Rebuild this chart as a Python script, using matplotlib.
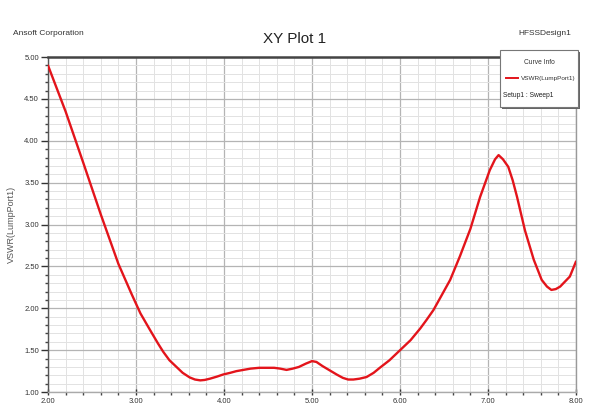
import matplotlib
matplotlib.use("Agg")
import matplotlib.pyplot as plt
from matplotlib.ticker import MultipleLocator, FormatStrFormatter
from matplotlib.patches import Rectangle

plt.rcParams['font.family'] = ['Liberation Sans Narrow', 'Liberation Sans', 'DejaVu Sans']

freq = [2.00, 2.20, 2.40, 2.60, 2.80, 2.95, 3.05, 3.16, 3.25, 3.31, 3.38,
        3.46, 3.53, 3.61, 3.67, 3.73, 3.78, 3.84, 3.92, 3.99, 4.07, 4.14,
        4.22, 4.30, 4.40, 4.49, 4.57, 4.64, 4.71, 4.78, 4.85, 4.93, 5.00,
        5.05, 5.12, 5.20, 5.28, 5.35, 5.41, 5.47, 5.54, 5.62, 5.70, 5.77,
        5.88, 6.00, 6.12, 6.23, 6.30, 6.38, 6.47, 6.57, 6.68, 6.80, 6.91,
        7.02, 7.08, 7.12, 7.17, 7.23, 7.28, 7.33, 7.42, 7.52, 7.61, 7.67,
        7.72, 7.77, 7.82, 7.93, 8.00]
vswr = [4.90, 4.35, 3.74, 3.12, 2.53, 2.17, 1.94, 1.74, 1.58, 1.48, 1.38,
        1.30, 1.23, 1.175, 1.15, 1.14, 1.145, 1.16, 1.185, 1.21, 1.23, 1.25,
        1.265, 1.28, 1.29, 1.29, 1.29, 1.28, 1.265, 1.28, 1.30, 1.34, 1.37,
        1.36, 1.31, 1.26, 1.21, 1.17, 1.15, 1.15, 1.16, 1.18, 1.23, 1.29,
        1.38, 1.50, 1.62, 1.76, 1.86, 1.98, 2.15, 2.34, 2.62, 2.95, 3.33,
        3.65, 3.78, 3.83, 3.78, 3.69, 3.53, 3.33, 2.93, 2.58, 2.34, 2.26,
        2.22, 2.23, 2.26, 2.38, 2.56]

title = "XY Plot 1"
left_note = "Ansoft Corporation"
right_note = "HFSSDesign1"
ylabel = "VSWR(LumpPort1)"
legend_title = "Curve Info"
legend_entry = "VSWR(LumpPort1)"
legend_sub = "Setup1 : Sweep1"

line_color = '#e3141b'

fig = plt.figure(figsize=(5.9, 4.08), dpi=100)
ax = fig.add_axes([0.0814, 0.039, 0.8949, 0.821])

ax.plot(freq, vswr, color=line_color, lw=1.7, zorder=3,
        solid_joinstyle='round', solid_capstyle='round')
ax.set_xlim(2.0, 8.0)
ax.set_ylim(1.0, 5.0)

ax.xaxis.set_major_locator(MultipleLocator(1.0))
ax.xaxis.set_minor_locator(MultipleLocator(0.2))
ax.yaxis.set_major_locator(MultipleLocator(0.5))
ax.yaxis.set_minor_locator(MultipleLocator(0.1))
ax.xaxis.set_major_formatter(FormatStrFormatter('%.2f'))
ax.yaxis.set_major_formatter(FormatStrFormatter('%.2f'))

ax.grid(which='major', color='#b4b4b4', lw=0.9, zorder=1)
ax.grid(which='minor', color='#e2e2e2', lw=0.7, zorder=0)

ax.tick_params(which='major', axis='both', labelsize=5.5, colors='#333333',
               length=5, width=1.0, pad=1.5)
ax.tick_params(which='minor', axis='both', length=2.5, width=1.0, colors='#444444')
ax.tick_params(axis='x', direction='inout')

ax.spines['top'].set_color('#444444')
ax.spines['top'].set_linewidth(1.8)
ax.spines['left'].set_color('#555555')
ax.spines['left'].set_linewidth(1.0)
ax.spines['bottom'].set_color('#aaaaaa')
ax.spines['bottom'].set_linewidth(1.0)
ax.spines['right'].set_color('#999999')
ax.spines['right'].set_linewidth(1.0)

ax.set_ylabel(ylabel, fontsize=6.5, color='#555555', labelpad=6)

fig.text(0.5, 0.905, title, ha='center', va='center', fontsize=11, color='#222222')
fig.text(0.022, 0.918, left_note, ha='left', va='center', fontsize=6, color='#333333')
fig.text(0.968, 0.918, right_note, ha='right', va='center', fontsize=6, color='#333333')

# legend box ("Curve Info")
tr = ax.transAxes
bx0, by0, bw, bh = 0.856, 0.851, 0.148, 0.170
shadow = Rectangle((bx0 + 0.003, by0 - 0.005), bw, bh, transform=tr,
                   facecolor='#666666', edgecolor='none', zorder=6, clip_on=False)
box = Rectangle((bx0, by0), bw, bh, transform=tr, facecolor='white',
                edgecolor='#777777', lw=0.8, zorder=7, clip_on=False)
ax.add_patch(shadow)
ax.add_patch(box)
ax.text(bx0 + bw / 2, 0.984, legend_title, transform=tr, ha='center', va='center',
        fontsize=4.8, color='#333333', zorder=8)
ax.plot([bx0 + 0.012, bx0 + 0.034], [0.937, 0.937], transform=tr, color=line_color,
        lw=1.4, zorder=8, clip_on=False)
ax.text(bx0 + 0.040, 0.937, legend_entry, transform=tr, ha='left', va='center',
        fontsize=4.6, color='#333333', zorder=8)
ax.text(bx0 + 0.006, 0.886, legend_sub, transform=tr, ha='left', va='center',
        fontsize=4.8, color='#222222', zorder=8)

fig.savefig("out.png", dpi=100, facecolor='white')
